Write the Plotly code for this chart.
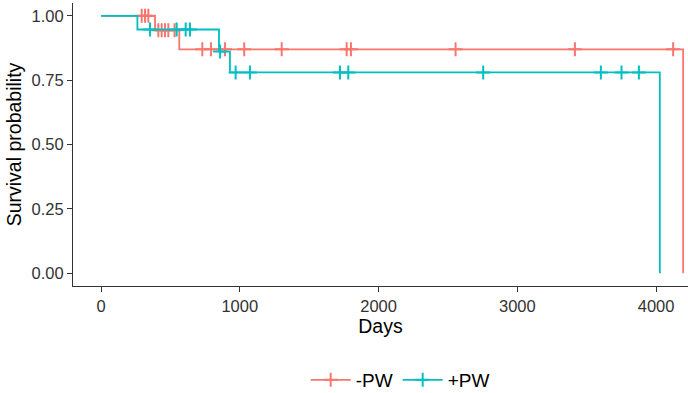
import plotly.graph_objects as go

# Kaplan-Meier step curves
neg_times = [0, 389, 564, 4195]
neg_surv = [1.0, 0.944, 0.870, 0.0]
pos_times = [0, 262, 850, 929, 4027]
pos_surv = [1.0, 0.947, 0.861, 0.780, 0.0]

# Censor marks
neg_cens_t = [293, 317, 341, 413, 437, 461, 485, 530, 730, 793, 893, 1032, 1302, 1770, 1801, 2555, 3415, 4123]
neg_cens_s = [1.0, 1.0, 1.0, 0.944, 0.944, 0.944, 0.944, 0.944, 0.870, 0.870, 0.870, 0.870, 0.870, 0.870, 0.870, 0.870, 0.870, 0.870]
pos_cens_t = [353, 545, 610, 641, 858, 970, 1073, 1722, 1782, 2754, 3602, 3751, 3876]
pos_cens_s = [0.947, 0.947, 0.947, 0.947, 0.861, 0.780, 0.780, 0.780, 0.780, 0.780, 0.780, 0.780, 0.780]

x_ticks = [0, 1000, 2000, 3000, 4000]
y_ticks = [0, 0.25, 0.5, 0.75, 1.0]
y_labels = ["0.00", "0.25", "0.50", "0.75", "1.00"]

RED = "#F8766D"
TEAL = "#00BFC4"

fig = go.Figure()
for name, t, s, ct, cs, col in [
    ("-PW", neg_times, neg_surv, neg_cens_t, neg_cens_s, RED),
    ("+PW", pos_times, pos_surv, pos_cens_t, pos_cens_s, TEAL),
]:
    fig.add_trace(go.Scatter(x=t, y=s, mode="lines", line=dict(color=col, width=1.8, shape="hv"),
                             name=name, legendgroup=name, showlegend=False))
    fig.add_trace(go.Scatter(x=ct, y=cs, mode="markers", name=name, legendgroup=name,
                             marker=dict(symbol="cross-thin", size=10, line=dict(color=col, width=2)),
                             showlegend=False))
    # legend entry: line with cross
    fig.add_trace(go.Scatter(x=[None], y=[None], mode="lines+markers", name=name, legendgroup=name,
                             line=dict(color=col, width=1.8),
                             marker=dict(symbol="cross-thin", size=10, line=dict(color=col, width=2)),
                             showlegend=True))

fig.update_layout(
    width=688, height=393,
    margin=dict(l=73, r=0, t=3, b=107, autoexpand=False),
    plot_bgcolor="white", paper_bgcolor="white",
    font=dict(family="Liberation Sans, Arial, sans-serif", color="black"),
    legend=dict(orientation="h", x=0.532, xanchor="center", y=-0.332, yanchor="middle",
                font=dict(size=19), itemwidth=40),
    xaxis=dict(range=[-202, 4230], tickvals=x_ticks, ticks="outside", ticklen=5,
               tickcolor="#333333", showline=True, linecolor="#333333", linewidth=1,
               showgrid=False, zeroline=False, automargin=False,
               tickfont=dict(size=16.5, color="#333333"),
               title=dict(text="Days", font=dict(size=19.5), standoff=4)),
    yaxis=dict(range=[-0.05, 1.05], tickvals=y_ticks, ticktext=y_labels, ticks="outside",
               ticklen=5, tickcolor="#333333", showline=True, linecolor="#333333", linewidth=1,
               showgrid=False, zeroline=False, automargin=False,
               tickfont=dict(size=16.5, color="#333333"),
               title=dict(text="Survival probability", font=dict(size=19.5), standoff=4)),
)

fig.write_html("out.html", config={"displayModeBar": False},
               post_script="document.body.style.margin='0';document.body.style.overflow='hidden';")
